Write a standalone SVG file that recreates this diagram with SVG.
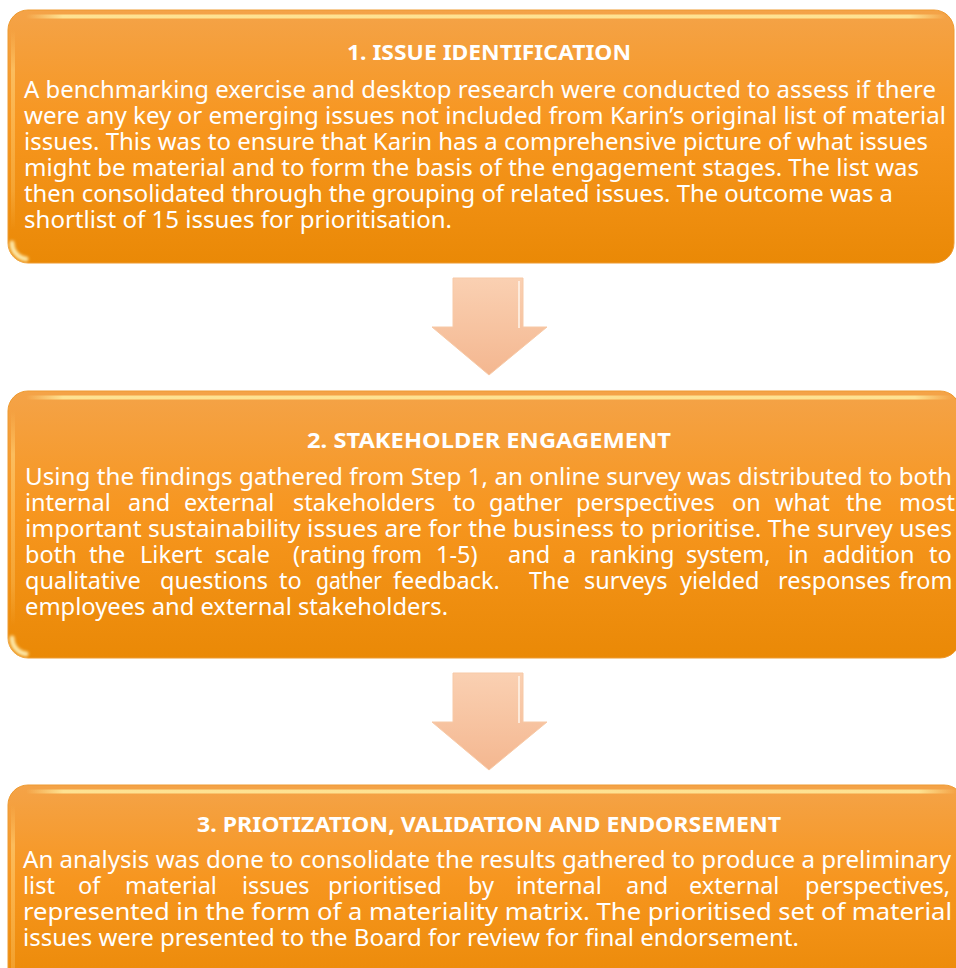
<svg xmlns="http://www.w3.org/2000/svg" width="956" height="968" viewBox="0 0 956 968">
<defs>
  <linearGradient id="boxFill" x1="0" y1="0" x2="0" y2="1">
    <stop offset="0" stop-color="#F4A348"/>
    <stop offset="0.45" stop-color="#F7961F"/>
    <stop offset="1" stop-color="#EA8906"/>
  </linearGradient>
  <linearGradient id="gloss" x1="0" y1="0" x2="1" y2="0">
    <stop offset="0" stop-color="#FFE99A" stop-opacity="0"/>
    <stop offset="0.04" stop-color="#FFE99A" stop-opacity="0.9"/>
    <stop offset="0.96" stop-color="#FFE99A" stop-opacity="0.9"/>
    <stop offset="1" stop-color="#FFE99A" stop-opacity="0"/>
  </linearGradient>
  <linearGradient id="sideGloss" x1="0" y1="0" x2="0" y2="1">
    <stop offset="0" stop-color="#FFD27A" stop-opacity="0"/>
    <stop offset="0.2" stop-color="#FFD27A" stop-opacity="0.6"/>
    <stop offset="0.8" stop-color="#FFD27A" stop-opacity="0.3"/>
    <stop offset="1" stop-color="#FFD27A" stop-opacity="0"/>
  </linearGradient>
  <filter id="soft" x="-50%" y="-50%" width="200%" height="200%">
    <feGaussianBlur stdDeviation="1.4"/>
  </filter>
  <linearGradient id="arrowFill" x1="0" y1="0" x2="0" y2="1">
    <stop offset="0" stop-color="#FAD0B2"/>
    <stop offset="1" stop-color="#F4B790"/>
  </linearGradient>
  <path id="arrowShape" d="M453,0 H523 V49 H547 L489,97 L432,49 H453 Z"/>
  <path id="cornerArc" d="M12,-14 A16,16 0 0 0 26,2" />
</defs>
<style>
  .box { fill: url(#boxFill); stroke: #EE9A30; stroke-width: 1; }
  .title { font-family: "Noto Sans", "DejaVu Sans", sans-serif; font-weight: bold; font-size: 22px; fill: #FFFFFF; text-anchor: middle; }
  .body { font-family: "Noto Sans", "DejaVu Sans", sans-serif; font-size: 23.5px; fill: #FFFFFF; }
  .arrow { fill: url(#arrowFill); stroke: #F7C9A6; stroke-width: 1; }
  .glow { fill: none; stroke: #FFF2B8; stroke-width: 5; stroke-linecap: round; opacity: 0.9; filter: url(#soft); }
</style>

<g id="connectors">
  <g id="arrow1" transform="translate(0,278)">
    <use href="#arrowShape" class="arrow"/>
    <path d="M519,3 V50" stroke="#FFF3E8" stroke-width="2" opacity="0.8"/>
  </g>
  <g id="arrow2" transform="translate(0,673)">
    <use href="#arrowShape" class="arrow"/>
    <path d="M519,3 V50" stroke="#FFF3E8" stroke-width="2" opacity="0.8"/>
  </g>
</g>

<g id="node1">
  <rect class="box" x="8" y="10" width="946" height="253" rx="20"/>
  <rect x="26" y="14.5" width="920" height="4" rx="2" fill="url(#gloss)"/>
  <rect x="11" y="30" width="4" height="200" fill="url(#sideGloss)"/>
  <use href="#cornerArc" class="glow" transform="translate(0,257)"/>
  <text class="title" x="489" y="60" textLength="284" lengthAdjust="spacingAndGlyphs">1. ISSUE IDENTIFICATION</text>
  <text class="body" x="24" y="98" textLength="912" lengthAdjust="spacingAndGlyphs">A benchmarking exercise and desktop research were conducted to assess if there</text>
  <text class="body" x="24" y="124" textLength="922" lengthAdjust="spacingAndGlyphs">were any key or emerging issues not included from Karin’s original list of material</text>
  <text class="body" x="24" y="150" textLength="904" lengthAdjust="spacingAndGlyphs">issues. This was to ensure that Karin has a comprehensive picture of what issues</text>
  <text class="body" x="24" y="176" textLength="895" lengthAdjust="spacingAndGlyphs">might be material and to form the basis of the engagement stages. The list was</text>
  <text class="body" x="24" y="202" textLength="869" lengthAdjust="spacingAndGlyphs">then consolidated through the grouping of related issues. The outcome was a</text>
  <text class="body" x="24" y="228" textLength="428" lengthAdjust="spacingAndGlyphs">shortlist of 15 issues for prioritisation.</text>
</g>

<g id="node2">
  <rect class="box" x="8" y="391" width="952" height="267" rx="20"/>
  <rect x="26" y="395.5" width="926" height="4" rx="2" fill="url(#gloss)"/>
  <rect x="11" y="411" width="4" height="215" fill="url(#sideGloss)"/>
  <use href="#cornerArc" class="glow" transform="translate(0,652)"/>
  <text class="title" x="489" y="448" textLength="364" lengthAdjust="spacingAndGlyphs">2. STAKEHOLDER ENGAGEMENT</text>
  <text class="body" x="25" y="485" textLength="927" lengthAdjust="spacingAndGlyphs">Using the findings gathered from Step 1, an online survey was distributed to both</text>
  <text class="body" y="511"><tspan x="25">internal</tspan><tspan x="128">and</tspan><tspan x="184">external</tspan><tspan x="293">stakeholders</tspan><tspan x="453">to</tspan><tspan x="489">gather</tspan><tspan x="576">perspectives</tspan><tspan x="732">on</tspan><tspan x="775">what</tspan><tspan x="846">the</tspan><tspan x="899">most</tspan></text>
  <text class="body" x="25" y="537" textLength="927" lengthAdjust="spacingAndGlyphs">important sustainability issues are for the business to prioritise. The survey uses</text>
  <text class="body" y="563"><tspan x="25">both</tspan><tspan x="89">the</tspan><tspan x="140">Likert</tspan><tspan x="215">scale</tspan><tspan x="293">(rating</tspan><tspan x="372" textLength="50" lengthAdjust="spacingAndGlyphs">from</tspan><tspan x="436">1-5)</tspan><tspan x="508">and</tspan><tspan x="563">a</tspan><tspan x="590">ranking</tspan><tspan x="686">system,</tspan><tspan x="788">in</tspan><tspan x="823">addition</tspan><tspan x="929">to</tspan></text>
  <text class="body" y="589"><tspan x="25">qualitative</tspan><tspan x="160">questions</tspan><tspan x="279">to</tspan><tspan x="316" textLength="66" lengthAdjust="spacingAndGlyphs">gather</tspan><tspan x="393">feedback.</tspan><tspan x="529">The</tspan><tspan x="584">surveys</tspan><tspan x="680">yielded</tspan><tspan x="778">responses</tspan><tspan x="899">from</tspan></text>
  <text class="body" x="25" y="615" textLength="423" lengthAdjust="spacingAndGlyphs">employees and external stakeholders.</text>
</g>

<g id="node3">
  <rect class="box" x="8" y="785" width="956" height="210" rx="20"/>
  <rect x="26" y="789.5" width="930" height="4" rx="2" fill="url(#gloss)"/>
  <rect x="11" y="805" width="4" height="200" fill="url(#sideGloss)"/>
  <text class="title" x="489" y="832" textLength="584" lengthAdjust="spacingAndGlyphs">3. PRIOTIZATION, VALIDATION AND ENDORSEMENT</text>
  <text class="body" x="23" y="868" textLength="928" lengthAdjust="spacingAndGlyphs">An analysis was done to consolidate the results gathered to produce a preliminary</text>
  <text class="body" y="894"><tspan x="23">list</tspan><tspan x="78">of</tspan><tspan x="125">material</tspan><tspan x="242">issues</tspan><tspan x="328">prioritised</tspan><tspan x="468">by</tspan><tspan x="516">internal</tspan><tspan x="626">and</tspan><tspan x="689">external</tspan><tspan x="805">perspectives,</tspan></text>
  <text class="body" x="23" y="920" textLength="929" lengthAdjust="spacingAndGlyphs">represented in the form of a materiality matrix. The prioritised set of material</text>
  <text class="body" x="23" y="946" textLength="776" lengthAdjust="spacingAndGlyphs">issues were presented to the Board for review for final endorsement.</text>
</g>
</svg>
